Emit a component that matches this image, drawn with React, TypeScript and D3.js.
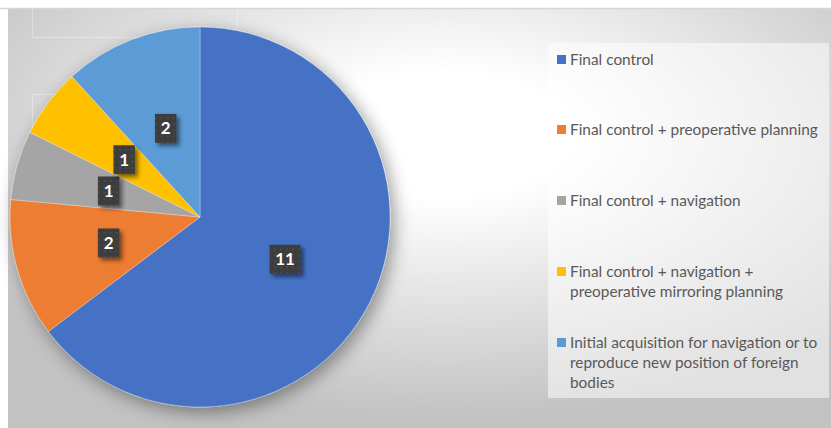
import React from "react";
import * as d3 from "d3";

const categories = [
  "Final control",
  "Final control + preoperative planning",
  "Final control + navigation",
  "Final control + navigation + preoperative mirroring planning",
  "Initial acquisition for navigation or to reproduce new position of foreign bodies",
];
const values = [11, 2, 1, 1, 2];
const colors = ["#4472C4", "#ED7D31", "#A5A5A5", "#FFC000", "#5B9BD5"];
const legendLines = [
  ["Final control"],
  ["Final control + preoperative planning"],
  ["Final control + navigation"],
  ["Final control + navigation +", "preoperative mirroring planning"],
  ["Initial acquisition for navigation or to", "reproduce new position of foreign", "bodies"],
];

const W = 831;
const H = 428;

export default function App() {
  const cx = 200;
  const cy = 217;
  const r = 190;
  const data = values.map((v, i) => ({ v, i }));
  const pie = d3.pie<{ v: number; i: number }>().value((d) => d.v).sort(null);
  const arcs = pie(data);
  const arc = d3.arc<d3.PieArcDatum<{ v: number; i: number }>>().innerRadius(0).outerRadius(r);
  const labelArc = d3.arc<d3.PieArcDatum<{ v: number; i: number }>>().innerRadius(r * 0.5).outerRadius(r * 0.5);

  const legX = 548;
  const legY = 43;
  const legW = 281;
  const legH = 355;
  const rowY = [60, 130, 201, 272, 343];
  const lineH = 20;

  return (
    <svg width={W} height={H} style={{ position: "absolute", left: 0, top: 0 }} xmlns="http://www.w3.org/2000/svg">
      <defs>
        <radialGradient id="bg" cx="0.53" cy="0.3" r="0.68" fx="0.53" fy="0.3">
          <stop offset="0" stopColor="#ffffff" />
          <stop offset="0.22" stopColor="#ffffff" />
          <stop offset="1" stopColor="#c2c2c2" />
        </radialGradient>
        <filter id="pieShadow" x="-20%" y="-20%" width="140%" height="140%">
          <feGaussianBlur in="SourceAlpha" stdDeviation="9" />
          <feOffset dx="4" dy="5" result="b" />
          <feComponentTransfer>
            <feFuncA type="linear" slope="0.4" />
          </feComponentTransfer>
          <feMerge>
            <feMergeNode />
            <feMergeNode in="SourceGraphic" />
          </feMerge>
        </filter>
        <filter id="lblShadow" x="-50%" y="-50%" width="200%" height="200%">
          <feGaussianBlur in="SourceAlpha" stdDeviation="2" />
          <feOffset dx="3" dy="3" />
          <feComponentTransfer>
            <feFuncA type="linear" slope="0.5" />
          </feComponentTransfer>
          <feMerge>
            <feMergeNode />
            <feMergeNode in="SourceGraphic" />
          </feMerge>
        </filter>
        <pattern id="dots" width="6" height="6" patternUnits="userSpaceOnUse">
          <rect width="6" height="6" fill="#3d3d3d" />
          <rect x="1" y="1" width="2" height="2" fill="#4a4a4a" />
        </pattern>
      </defs>

      <rect x={0} y={0} width={W} height={H} fill="#ffffff" />
      <rect x={8} y={9} width={W - 8} height={H - 9} fill="url(#bg)" />
      <line x1={0} x2={W} y1={8.5} y2={8.5} stroke="#d6d6d6" strokeWidth={1.5} />

      {/* faint background frame artifacts */}
      <g stroke="#ffffff" strokeOpacity={0.35} fill="none" strokeWidth={1}>
        <polyline points="32.5,9 32.5,37.5 237.5,37.5 237.5,9" />
        <polyline points="60,94.5 32.5,94.5 32.5,165" />
      </g>

      <g filter="url(#pieShadow)" transform={`translate(${cx},${cy})`}>
        {arcs.map((a, k) => (
          <path key={k} d={arc(a) || ""} fill={colors[a.data.i]} stroke="#ffffff" strokeOpacity={0.5} strokeWidth={0.6} />
        ))}
      </g>

      <g transform={`translate(${cx},${cy})`}>
        {arcs.map((a, k) => {
          const [lx, ly] = labelArc.centroid(a);
          const txt = String(a.data.v);
          const bw = 12 + 9.5 * txt.length;
          const bh = 29;
          return (
            <g key={k} transform={`translate(${lx},${ly})`}>
              <rect x={-bw / 2} y={-bh / 2} width={bw} height={bh} fill="url(#dots)" filter="url(#lblShadow)" />
              <text
                x={0}
                y={6}
                textAnchor="middle"
                fill="#ffffff"
                fontFamily="Lato, 'Open Sans', sans-serif"
                fontWeight="bold"
                fontSize={17}
              >
                {txt}
              </text>
            </g>
          );
        })}
      </g>

      <rect x={legX} y={legY} width={legW} height={legH} fill="#ffffff" fillOpacity={0.5} />
      <g fontFamily="Lato, 'Open Sans', sans-serif" fontSize={15.4} fill="#595959">
        {categories.map((c, i) => (
          <g key={c}>
            <rect x={557} y={rowY[i] - 5} width={9} height={9} fill={colors[i]} />
            {legendLines[i].map((ln, j) => (
              <text key={j} x={570} y={rowY[i] + 5 + j * lineH}>
                {ln}
              </text>
            ))}
          </g>
        ))}
      </g>
    </svg>
  );
}
